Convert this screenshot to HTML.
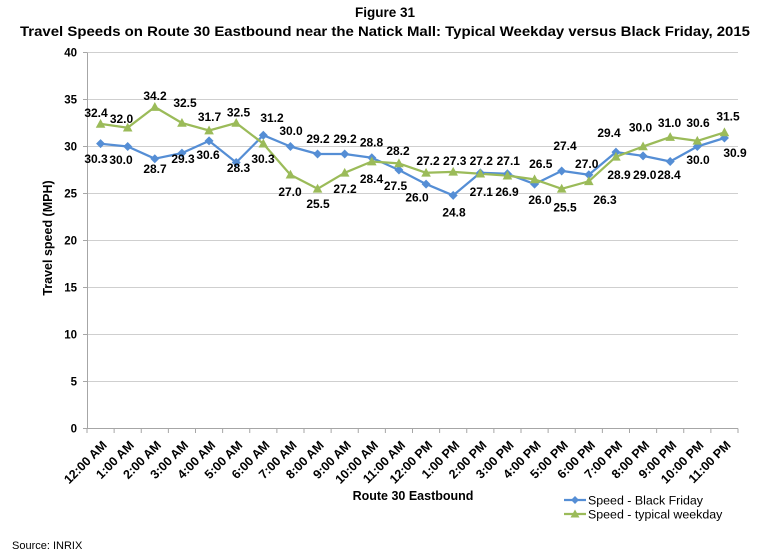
<!DOCTYPE html>
<html><head><meta charset="utf-8"><style>
html,body{margin:0;padding:0;background:#fff;}
svg{display:block;font-family:"Liberation Sans",Arial,sans-serif;}
.t{font-weight:bold;fill:#000;}
.dl{font-weight:bold;font-size:12px;fill:#000;text-anchor:middle;}
.yt{font-weight:bold;font-size:11.5px;fill:#000;text-anchor:end;}
.xt{font-weight:bold;font-size:12.5px;fill:#000;text-anchor:end;}
</style></head><body>
<svg width="768" height="555" viewBox="0 0 768 555" xmlns="http://www.w3.org/2000/svg">
<rect width="768" height="555" fill="#fff"/>
<text class="t" x="385" y="17" font-size="13.5" text-anchor="middle">Figure 31</text>
<text class="t" x="385" y="36" font-size="13.5" text-anchor="middle" textLength="730" lengthAdjust="spacingAndGlyphs">Travel Speeds on Route 30 Eastbound near the Natick Mall: Typical Weekday versus Black Friday, 2015</text>

<g stroke="#CFCFCF" stroke-width="1">
<line x1="87" y1="52.5" x2="738" y2="52.5"/>
<line x1="87" y1="99.5" x2="738" y2="99.5"/>
<line x1="87" y1="146.5" x2="738" y2="146.5"/>
<line x1="87" y1="193.5" x2="738" y2="193.5"/>
<line x1="87" y1="240.5" x2="738" y2="240.5"/>
<line x1="87" y1="287.5" x2="738" y2="287.5"/>
<line x1="87" y1="334.5" x2="738" y2="334.5"/>
<line x1="87" y1="381.5" x2="738" y2="381.5"/>
</g>
<g stroke="#A6A6A6" stroke-width="1">
<line x1="87.5" y1="52.5" x2="87.5" y2="428.5"/>
<line x1="87" y1="428.5" x2="738" y2="428.5"/>
<line x1="83" y1="52.5" x2="87" y2="52.5"/>
<line x1="83" y1="99.5" x2="87" y2="99.5"/>
<line x1="83" y1="146.5" x2="87" y2="146.5"/>
<line x1="83" y1="193.5" x2="87" y2="193.5"/>
<line x1="83" y1="240.5" x2="87" y2="240.5"/>
<line x1="83" y1="287.5" x2="87" y2="287.5"/>
<line x1="83" y1="334.5" x2="87" y2="334.5"/>
<line x1="83" y1="381.5" x2="87" y2="381.5"/>
<line x1="83" y1="428.5" x2="87" y2="428.5"/>
</g>
<g stroke="#A6A6A6" stroke-width="1" id="xticks"></g>

<g class="yt">
<text x="77" y="56.5">40</text>
<text x="77" y="103.5">35</text>
<text x="77" y="150.5">30</text>
<text x="77" y="197.5">25</text>
<text x="77" y="244.5">20</text>
<text x="77" y="291.5">15</text>
<text x="77" y="338.5">10</text>
<text x="77" y="385.5">5</text>
<text x="77" y="432.5">0</text>
</g>

<text class="t" font-size="12.5" transform="translate(52,238) rotate(-90)" text-anchor="middle">Travel speed (MPH)</text>
<text class="t" font-size="12.5" x="413" y="500" text-anchor="middle">Route 30 Eastbound</text>
<text x="12" y="549" font-size="11" fill="#000">Source: INRIX</text>

<g id="series"></g>
<g id="xlabels" class="xt"></g>
<g id="dlabels" class="dl"></g>

<g>
<line x1="564" y1="500" x2="586" y2="500" stroke="#558ED5" stroke-width="2.25"/>
<polygon points="575,496 579,500 575,504 571,500" fill="#558ED5"/>
<text x="588" y="504.5" font-size="12.4" fill="#000">Speed - Black Friday</text>
<line x1="564" y1="514" x2="586" y2="514" stroke="#9BBB59" stroke-width="2.25"/>
<polygon points="575,509.5 579.5,517.5 570.5,517.5" fill="#9BBB59"/>
<text x="588" y="518.5" font-size="12.4" fill="#000">Speed - typical weekday</text>
</g>

<script>
(function(){
var NS="http://www.w3.org/2000/svg";
var b=[30.3,30.0,28.7,29.3,30.6,28.3,31.2,30.0,29.2,29.2,28.8,27.5,26.0,24.8,27.2,27.1,26.0,27.4,27.0,29.4,29.0,28.4,30.0,30.9];
var g=[32.4,32.0,34.2,32.5,31.7,32.5,30.3,27.0,25.5,27.2,28.4,28.2,27.2,27.3,27.1,26.9,26.5,25.5,26.3,28.9,30.0,31.0,30.6,31.5];
var labs=["12:00 AM","1:00 AM","2:00 AM","3:00 AM","4:00 AM","5:00 AM","6:00 AM","7:00 AM","8:00 AM","9:00 AM","10:00 AM","11:00 AM","12:00 PM","1:00 PM","2:00 PM","3:00 PM","4:00 PM","5:00 PM","6:00 PM","7:00 PM","8:00 PM","9:00 PM","10:00 PM","11:00 PM"];
function cx(i){return 87+27.125*(i+0.5);}
function cy(v){return 428.5-9.4*v;}
function el(n,a,p,t){var e=document.createElementNS(NS,n);for(var k in a)e.setAttribute(k,a[k]);if(t!==undefined)e.textContent=t;p.appendChild(e);return e;}
var xt=document.getElementById("xticks");
for(var i=0;i<=24;i++){var x=87+27.125*i;el("line",{x1:x,y1:428.5,x2:x,y2:433},xt);}
var s=document.getElementById("series");
function pts(a){return a.map(function(v,i){return cx(i).toFixed(1)+","+cy(v).toFixed(1);}).join(" ");}
el("polyline",{points:pts(b),fill:"none",stroke:"#558ED5","stroke-width":2.25,"stroke-linejoin":"round"},s);
el("polyline",{points:pts(g),fill:"none",stroke:"#9BBB59","stroke-width":2.25,"stroke-linejoin":"round"},s);
b.forEach(function(v,i){var x=cx(i),y=cy(v);el("polygon",{points:x+","+(y-4.5)+" "+(x+4.5)+","+y+" "+x+","+(y+4.5)+" "+(x-4.5)+","+y,fill:"#558ED5"},s);});
g.forEach(function(v,i){var x=cx(i),y=cy(v);el("polygon",{points:x+","+(y-5)+" "+(x+4.8)+","+(y+3.8)+" "+(x-4.8)+","+(y+3.8),fill:"#9BBB59"},s);});
var xl=document.getElementById("xlabels");
labs.forEach(function(t,i){el("text",{transform:"translate("+(cx(i)+7)+",446) rotate(-45)"},xl,t);});
var D=[
["32.4",96,117],["30.3",96,163],
["32.0",121.5,123],["30.0",121,164],
["34.2",155,100],["28.7",155,173],
["32.5",185,107],["29.3",183,163],
["31.7",209.5,121],["30.6",208,159],
["32.5",238.5,116.5],["28.3",238.5,172],
["31.2",272,122],["30.3",263,163],
["30.0",291,135],["27.0",290,196],
["29.2",318,143],["25.5",318,208],
["29.2",345,143],["27.2",345,193],
["28.8",371.5,146.5],["28.4",371.5,183],
["28.2",398,155],["27.5",395.5,190],
["27.2",428,165],["26.0",417,201.5],
["27.3",454.7,165],["24.8",454,216.5],
["27.2",481.3,165],["27.1",481.3,196],
["27.1",508.3,165],["26.9",507,196],
["26.5",540.8,168],["26.0",540,204],
["27.4",565,150],["25.5",565,211.5],
["27.0",586.7,168],["26.3",605,204],
["29.4",609,137],["28.9",619,179],
["30.0",640.5,131.5],["29.0",644.7,179],
["31.0",669.5,127],["28.4",669,179],
["30.6",698,127],["30.0",698,164],
["31.5",728,120.5],["30.9",735,157]
];
var dl=document.getElementById("dlabels");
D.forEach(function(d){el("text",{x:d[1],y:d[2]},dl,d[0]);});
})();
</script>
</svg>
</body></html>
